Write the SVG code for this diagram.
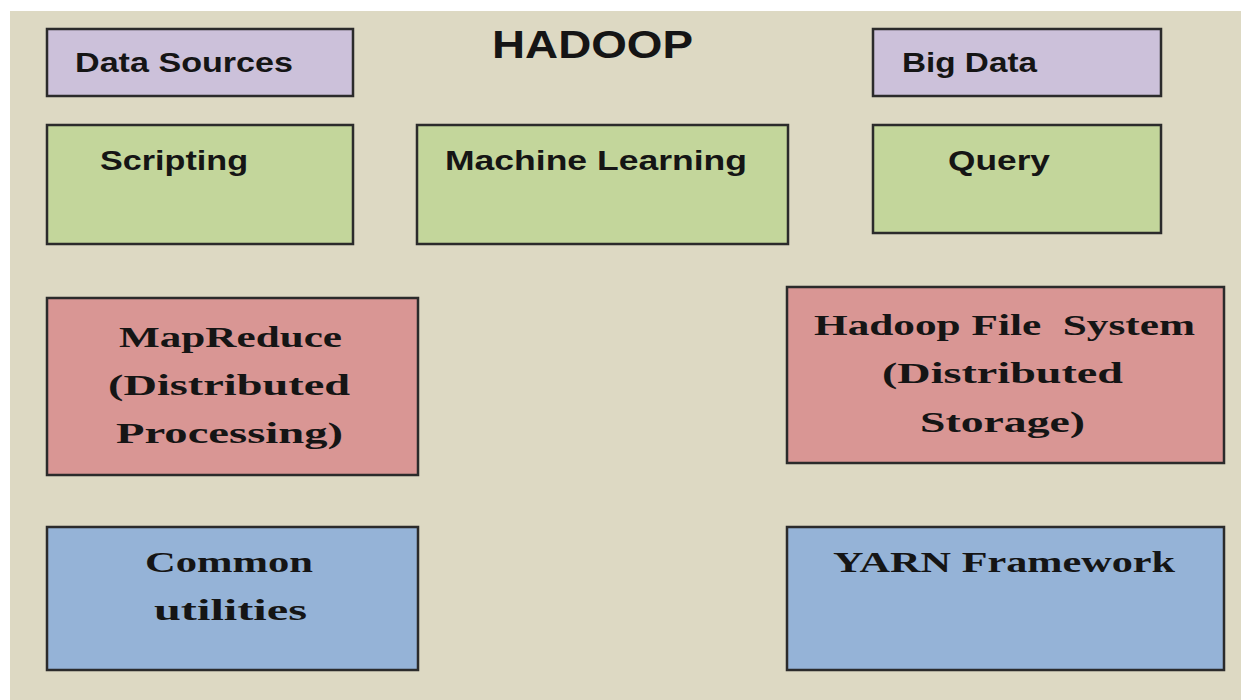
<svg xmlns="http://www.w3.org/2000/svg" width="1241" height="700" viewBox="0 0 1241 700">
<style>
.box{stroke:#2b2b2b;stroke-width:2.5}
.purple{fill:#ccc1da}
.green{fill:#c3d69b}
.red{fill:#d99694}
.blue{fill:#95b3d7}
.sans{font-family:"Liberation Sans","Open Sans",Arial,sans-serif;font-weight:bold;fill:#151515;font-size:28px}
.serif{font-family:"Liberation Serif","DejaVu Serif",serif;font-weight:bold;fill:#151515;font-size:30px}
</style>
<rect x="0" y="0" width="1241" height="700" fill="#ffffff"/>
<rect x="10" y="11" width="1231" height="689" fill="#ddd9c3"/>
<g id="title"><text class="sans" x="492" y="58" style="font-size:39px" textLength="201" lengthAdjust="spacingAndGlyphs">HADOOP</text></g>
<g id="data-sources"><rect class="box purple" x="47" y="29" width="306" height="67"/><text class="sans" x="75" y="72" textLength="218" lengthAdjust="spacingAndGlyphs">Data Sources</text></g>
<g id="big-data"><rect class="box purple" x="873" y="29" width="288" height="67"/><text class="sans" x="902" y="72" textLength="135" lengthAdjust="spacingAndGlyphs">Big Data</text></g>
<g id="scripting"><rect class="box green" x="47" y="125" width="306" height="119"/><text class="sans" x="100" y="170" textLength="148" lengthAdjust="spacingAndGlyphs">Scripting</text></g>
<g id="machine-learning"><rect class="box green" x="417" y="125" width="371" height="119"/><text class="sans" x="445" y="170" textLength="302" lengthAdjust="spacingAndGlyphs">Machine Learning</text></g>
<g id="query"><rect class="box green" x="873" y="125" width="288" height="108"/><text class="sans" x="948" y="170" textLength="102" lengthAdjust="spacingAndGlyphs">Query</text></g>
<g id="mapreduce"><rect class="box red" x="47" y="298" width="371" height="177"/>
<text class="serif" x="119" y="347" textLength="223" lengthAdjust="spacingAndGlyphs">MapReduce</text>
<text class="serif" x="108" y="395" textLength="242" lengthAdjust="spacingAndGlyphs">(Distributed</text>
<text class="serif" x="116" y="443" textLength="227" lengthAdjust="spacingAndGlyphs">Processing)</text></g>
<g id="hdfs"><rect class="box red" x="787" y="287" width="437" height="176"/>
<text class="serif" x="814" y="335" textLength="381" lengthAdjust="spacingAndGlyphs" xml:space="preserve">Hadoop File  System</text>
<text class="serif" x="882" y="383" textLength="241" lengthAdjust="spacingAndGlyphs">(Distributed</text>
<text class="serif" x="920" y="432" textLength="165" lengthAdjust="spacingAndGlyphs">Storage)</text></g>
<g id="common"><rect class="box blue" x="47" y="527" width="371" height="143"/>
<text class="serif" x="145" y="572" textLength="168" lengthAdjust="spacingAndGlyphs">Common</text>
<text class="serif" x="154" y="620" textLength="153" lengthAdjust="spacingAndGlyphs">utilities</text></g>
<g id="yarn"><rect class="box blue" x="787" y="527" width="437" height="143"/>
<text class="serif" x="833" y="572" textLength="342" lengthAdjust="spacingAndGlyphs">YARN Framework</text></g>
<g id="connectors"></g>
</svg>
